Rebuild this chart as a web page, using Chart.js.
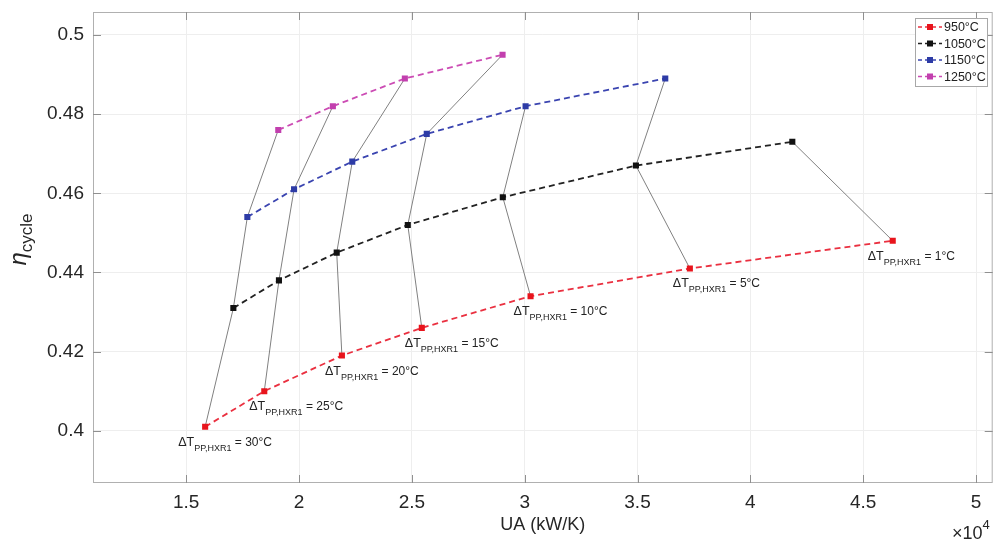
<!DOCTYPE html>
<html>
<head>
<meta charset="utf-8">
<script src="https://cdn.jsdelivr.net/npm/chart.js@4.4.0/dist/chart.umd.min.js"></script>
<style>
  body { margin: 0; background: #fff; }
  #wrap { width: 997px; height: 542px; }
</style>
</head>
<body>
<div id="wrap"><canvas id="uaChart" width="997" height="542"></canvas></div>
<script>
// pinch point temperature difference at HXR1 (°C), same order as the points
var dT = [30, 25, 20, 15, 10, 5, 1];

// UA (kW/K) and cycle efficiency for each turbine inlet temperature
var ua950 = [15840, 18460, 21900, 25440, 30260, 37320, 46310];
var eta950 = [0.401, 0.410, 0.419, 0.426, 0.434, 0.441, 0.448];
var ua1050 = [17090, 19110, 21670, 24820, 29030, 34930, 41860];
var eta1050 = [0.431, 0.438, 0.445, 0.452, 0.459, 0.467, 0.473];
var ua1150 = [17710, 19780, 22360, 25660, 30040, 36230];
var eta1150 = [0.454, 0.461, 0.468, 0.475, 0.482, 0.489];
var ua1250 = [19080, 21500, 24690, 29020];
var eta1250 = [0.476, 0.482, 0.489, 0.495];

var xTicks = [1.5, 2, 2.5, 3, 3.5, 4, 4.5, 5];   // x 10^4
var yTicks = [0.4, 0.42, 0.44, 0.46, 0.48, 0.5];

var FONT = '"Liberation Sans", Arial, Helvetica, sans-serif';

var series = [
    { label: '950°C', ua: ua950, eta: eta950, color: '#e8141c', line: '#ea3040' },
    { label: '1050°C', ua: ua1050, eta: eta1050, color: '#111111', line: '#222222' },
    { label: '1150°C', ua: ua1150, eta: eta1150, color: '#2d3ba6', line: '#3a44b0' },
    { label: '1250°C', ua: ua1250, eta: eta1250, color: '#c23fae', line: '#cc4cb4' }
];

// small horizontal nudges (px) for the dT labels, as placed in the figure
var labelNudge = { 30: -27, 25: -15, 1: -25 };

function pts(ua, eta) {
    return ua.map(function (u, i) { return { x: u, y: eta[i] }; });
}

var datasets = [];
series.forEach(function (s) {
    datasets.push({
        label: s.label,
        data: pts(s.ua, s.eta),
        showLine: true,
        borderColor: s.line,
        borderWidth: 1.8,
        borderDash: [6, 4],
        pointStyle: 'rect',
        pointRadius: 4.3,
        pointBackgroundColor: s.color,
        pointBorderColor: s.color,
        pointBorderWidth: 0,
        order: 1
    });
});

// thin grey lines joining points with the same pinch point dT
dT.forEach(function (d, i) {
    var p = [];
    series.forEach(function (s) {
        if (i < s.ua.length) p.push({ x: s.ua[i], y: s.eta[i] });
    });
    datasets.push({
        label: 'dT' + d,
        data: p,
        showLine: true,
        borderColor: '#808080',
        borderWidth: 1,
        pointRadius: 0,
        order: 2
    });
});

function drawParts(ctx, x, y, parts) {
    parts.forEach(function (p) {
        ctx.font = (p.style || '') + p.size + 'px ' + FONT;
        ctx.fillText(p.t, x, y + (p.dy || 0));
        x += ctx.measureText(p.t).width;
    });
}

var matlabAxes = {
    id: 'matlabAxes',
    afterDraw: function (chart) {
        var ctx = chart.ctx;
        var a = chart.chartArea;
        var xs = chart.scales.x, ys = chart.scales.y;
        ctx.save();

        // box and inward ticks
        ctx.strokeStyle = '#b0b0b0';
        ctx.lineWidth = 1;
        ctx.strokeRect(a.left + 0.5, a.top + 0.5, a.right - a.left - 1, a.bottom - a.top - 1);
        ctx.strokeStyle = '#909090';
        ctx.beginPath();
        xTicks.forEach(function (t) {
            var px = Math.round(xs.getPixelForValue(t * 1e4)) + 0.5;
            ctx.moveTo(px, a.bottom); ctx.lineTo(px, a.bottom - 8);
            ctx.moveTo(px, a.top); ctx.lineTo(px, a.top + 8);
        });
        yTicks.forEach(function (t) {
            var py = Math.round(ys.getPixelForValue(t)) + 0.5;
            ctx.moveTo(a.left, py); ctx.lineTo(a.left + 8, py);
            ctx.moveTo(a.right, py); ctx.lineTo(a.right - 8, py);
        });
        ctx.stroke();

        // dT labels under the 950°C points
        ctx.fillStyle = '#222';
        ctx.textBaseline = 'alphabetic';
        ctx.textAlign = 'left';
        dT.forEach(function (d, i) {
            var px = xs.getPixelForValue(ua950[i]);
            var py = ys.getPixelForValue(eta950[i]);
            var nx = labelNudge[d] !== undefined ? labelNudge[d] : -17;
            drawParts(ctx, px + nx, py + 19, [
                { t: '\u0394T', size: 12.5 },
                { t: 'PP,HXR1', size: 9, dy: 5 },
                { t: ' = ' + d + '°C', size: 12 }
            ]);
        });

        // legend
        var lx = 915, ly = 18, lw = 72, lh = 68;
        ctx.fillStyle = '#fff';
        ctx.fillRect(lx, ly, lw, lh);
        ctx.strokeStyle = '#a8a8a8';
        ctx.lineWidth = 1;
        ctx.strokeRect(lx + 0.5, ly + 0.5, lw, lh);
        series.forEach(function (s, i) {
            var y = ly + 9 + i * 16.5;
            ctx.strokeStyle = s.line;
            ctx.lineWidth = 1.5;
            ctx.setLineDash([4, 3]);
            ctx.beginPath();
            ctx.moveTo(lx + 3, y); ctx.lineTo(lx + 27, y);
            ctx.stroke();
            ctx.setLineDash([]);
            ctx.fillStyle = s.color;
            ctx.fillRect(lx + 12, y - 3, 6, 6);
            ctx.fillStyle = '#222';
            ctx.font = '12.5px ' + FONT;
            ctx.textBaseline = 'middle';
            ctx.fillText(s.label, lx + 29, y + 1);
        });

        // axis titles
        ctx.fillStyle = '#262626';
        ctx.textBaseline = 'alphabetic';
        ctx.font = '18px ' + FONT;
        ctx.textAlign = 'center';
        ctx.fillText('UA (kW/K)', (a.left + a.right) / 2, 530);
        ctx.textAlign = 'left';
        drawParts(ctx, 952, 539, [
            { t: '\u00d710', size: 18 },
            { t: '4', size: 13, dy: -10 }
        ]);

        ctx.save();
        ctx.translate(26, (a.top + a.bottom) / 2 - 8);
        ctx.rotate(-Math.PI / 2);
        ctx.font = 'italic 24px ' + FONT;
        var w1 = ctx.measureText('\u03b7').width;
        ctx.font = '17px ' + FONT;
        var w2 = ctx.measureText('cycle').width;
        drawParts(ctx, -(w1 + w2) / 2, 0, [
            { t: '\u03b7', size: 24, style: 'italic ' },
            { t: 'cycle', size: 17, dy: 6 }
        ]);
        ctx.restore();

        ctx.restore();
    }
};

var ctxU = document.getElementById('uaChart').getContext('2d');
var uaChart = new Chart(ctxU, {
    type: 'scatter',
    data: { datasets: datasets },
    options: {
        responsive: false,
        animation: false,
        layout: { padding: { top: 12, right: 3, left: 0, bottom: 0 } },
        plugins: {
            legend: { display: false },
            tooltip: { enabled: false }
        },
        scales: {
            x: {
                type: 'linear',
                min: 10870,
                max: 50740,
                afterBuildTicks: function (scale) {
                    scale.ticks = xTicks.map(function (v) { return { value: v * 1e4 }; });
                },
                afterFit: function (scale) {
                    scale.height = 59;
                    scale.paddingLeft = 0;
                    scale.paddingRight = 0;
                },
                ticks: {
                    padding: 8,
                    color: '#262626',
                    font: { family: FONT, size: 19 },
                    maxRotation: 0,
                    callback: function (v) { return String(Math.round(v / 1000) / 10); }
                },
                grid: { color: '#eeeeee', drawTicks: false },
                border: { display: false }
            },
            y: {
                type: 'linear',
                min: 0.3868,
                max: 0.5058,
                afterBuildTicks: function (scale) {
                    scale.ticks = yTicks.map(function (v) { return { value: v }; });
                },
                afterFit: function (scale) {
                    scale.width = 93;
                    scale.paddingTop = 0;
                    scale.paddingBottom = 0;
                },
                ticks: {
                    padding: 9,
                    color: '#262626',
                    font: { family: FONT, size: 19 },
                    callback: function (v) { return String(Math.round(v * 100) / 100); }
                },
                grid: { color: '#eeeeee', drawTicks: false },
                border: { display: false }
            }
        }
    },
    plugins: [matlabAxes]
});
</script>
</body>
</html>
